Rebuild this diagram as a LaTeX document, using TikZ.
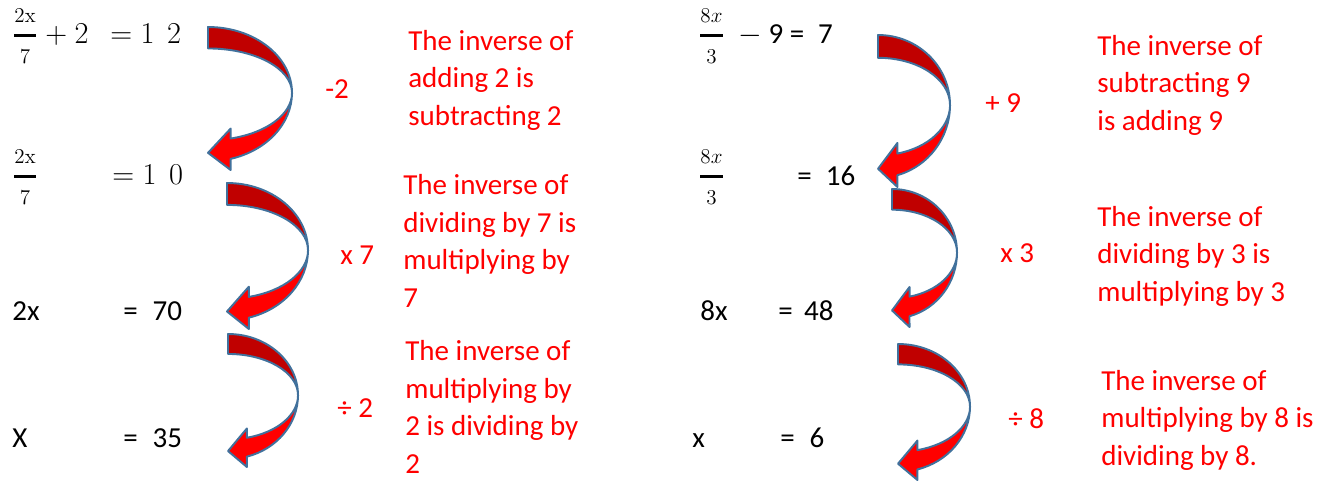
\documentclass[tikz,border=0pt]{standalone}
\usepackage{amsmath}
\usepackage[no-math]{fontspec}
\setmainfont{Carlito}
\usepackage{xcolor}
\usetikzlibrary{positioning}

\definecolor{arrowline}{RGB}{65,113,156}
\definecolor{darkface}{RGB}{192,0,0}
\definecolor{lightface}{RGB}{255,0,0}

% fraction with small parts and a heavy bar
\newcommand{\eqfrac}[2]{\genfrac{}{}{1.3pt}{0}{\scriptstyle #1}{\scriptstyle #2}}

% curved arrow in a pixel box: x, y (top left), width, height
\newcommand{\bendarrow}[4]{%
  \begin{scope}[shift={(#1,#2)}, xscale=#3, yscale=#4]
    \filldraw[arrow_edge, fill=darkface] (0,0)
      arc[start angle=-90, end angle=0, x radius=1, y radius=0.46]
      arc[start angle=0, end angle=-90, x radius=1, y radius=0.31] -- cycle;
    \filldraw[arrow_edge, fill=lightface] (1,0.46)
      arc[start angle=0, end angle=74.4, x radius=1, y radius=0.48]
      -- (0.27,1) -- (0,0.88) -- (0.27,0.71) -- (0.27,0.78)
      arc[start angle=74.4, end angle=0, x radius=1, y radius=0.333] -- cycle;
  \end{scope}}

\begin{document}
\begin{tikzpicture}[
    x=0.02cm, y=-0.02cm,
    arrow_edge/.style={draw=arrowline, line width=1.1pt, line join=round},
    eq_frac/.style={inner sep=0, anchor=base west, font=\fontsize{16.5}{20}\selectfont},
    eq_math/.style={inner sep=0, anchor=base west, font=\fontsize{19}{23}\selectfont},
    eq_text/.style={inner sep=0, anchor=base west, font=\fontsize{16.5}{21.3}\selectfont},
    note/.style={eq_text, align=left, text=red},
    op_label/.style={eq_text, text=red}
]
\useasboundingbox (0,0) rectangle (1329,481);

% left column
\node[eq_frac] (l1a) at (12,43) {$\eqfrac{2\mathrm{x}}{7}$};
\node[eq_math] (l1b) at (45,43) {$+\ 2$};
\node[eq_math] (l1c) at (110,43) {$=1\ \,2$};
\node[eq_frac] (l2a) at (12,184) {$\eqfrac{2\mathrm{x}}{7}$};
\node[eq_math] (l2b) at (112,184) {$=1\ \,0$};
\node[eq_text] (l3a) at (12,320) {2x};
\node[eq_text] (l3b) at (123,320) {=\hspace{8.5pt}70};
\node[eq_text] (l4a) at (12,447) {X};
\node[eq_text] (l4b) at (123,447) {=\hspace{8.5pt}35};

\bendarrow{208}{27}{84}{143}
\bendarrow{227}{183}{81}{146}
\bendarrow{228}{334}{70}{133}

\node[op_label] (l_op1) at (325,98) {-2};
\node[op_label] (l_op2) at (340,264) {x 7};
\node[op_label] (l_op3) at (337,417) {÷ 2};

\node[note] (l_note1) at (408,125) {The inverse of\\adding 2 is\\subtracting 2};
\node[note] (l_note2) at (403,307) {The inverse of\\dividing by 7 is\\multiplying by\\7};
\node[note] (l_note3) at (405,473) {The inverse of\\multiplying by\\2 is dividing by\\2};

% right column
\node[eq_frac] (r1a) at (698,43) {$\eqfrac{8x}{3}$};
\node[eq_text] (r1b) at (738,43) {$-$ 9 =\hspace{8pt}7};
\node[eq_frac] (r2a) at (698,184) {$\eqfrac{8x}{3}$};
\node[eq_text] (r2b) at (797,185) {=\hspace{8pt}16};
\node[eq_text] (r3a) at (700,320) {8x};
\node[eq_text] (r3b) at (778,320) {=\hspace{6.5pt}48};
\node[eq_text] (r4a) at (692,447) {x};
\node[eq_text] (r4b) at (780,447) {=\hspace{8.5pt}6};

\bendarrow{878}{35}{72}{152}
\bendarrow{892}{189}{65}{138}
\bendarrow{898}{344}{72}{136}

\node[op_label] (r_op1) at (985,112) {+ 9};
\node[op_label] (r_op2) at (1000,262) {x 3};
\node[op_label] (r_op3) at (1008,428) {÷ 8};

\node[note] (r_note1) at (1097,130) {The inverse of\\subtracting 9\\is adding 9};
\node[note] (r_note2) at (1097,301) {The inverse of\\dividing by 3 is\\multiplying by 3};
\node[note] (r_note3) at (1101,465) {The inverse of\\multiplying by 8 is\\dividing by 8.};
\end{tikzpicture}
\end{document}
